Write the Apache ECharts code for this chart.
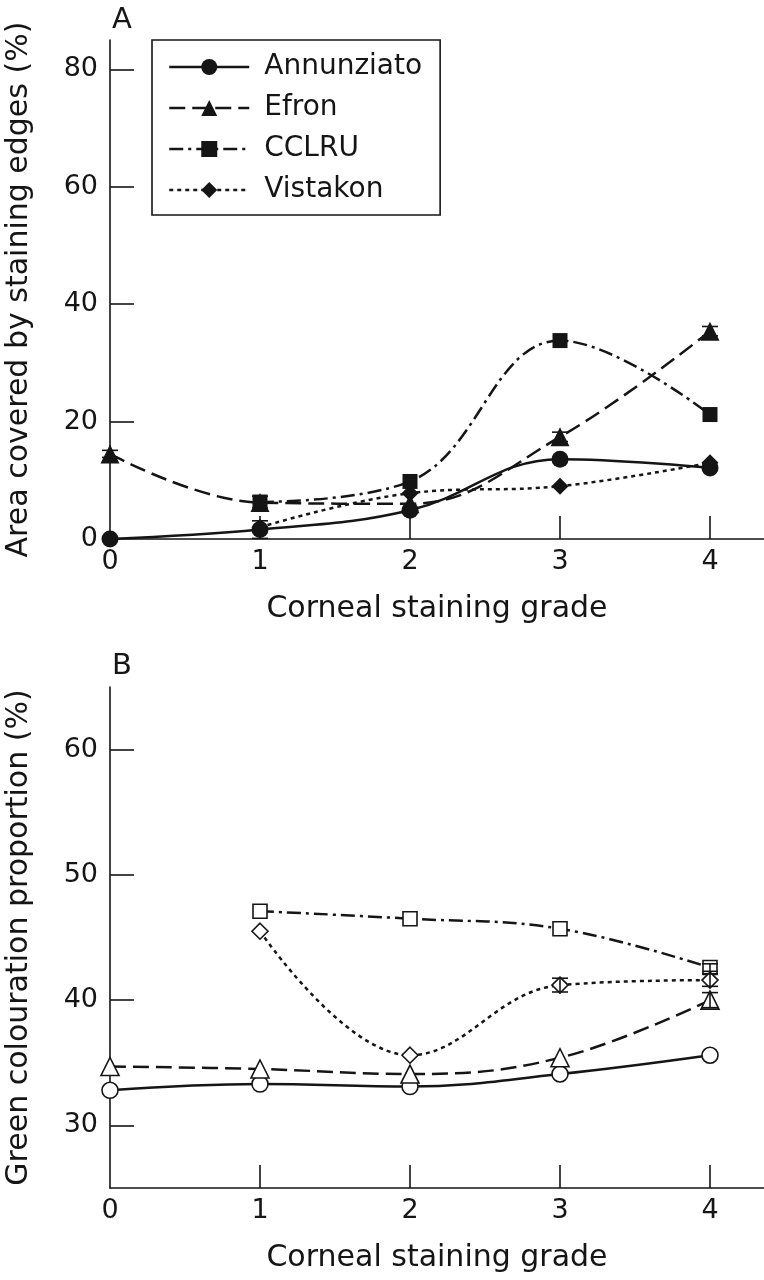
<!DOCTYPE html>
<html lang="en">

<head>
    <meta charset="UTF-8">
    <title>Corneal staining grade</title>
    <script src="https://cdn.jsdelivr.net/npm/echarts@6/dist/echarts.min.js"></script>
    <style>
        html, body { margin: 0; padding: 0; background: #fff; }
        #container { width: 764px; height: 1280px; }
    </style>
</head>

<body>
    <div id="container"></div>

    <script>
        // grades on the x axis
        var grades = [0, 1, 2, 3, 4];
        var names = ['Annunziato', 'Efron', 'CCLRU', 'Vistakon'];

        // panel A: area covered by staining edges (%)
        var annunziatoA = [0, 1.6, 4.9, 13.6, 12.1];
        var efronA = [14.5, 6.2, 6.0, 17.4, 35.4];
        var cclruA = [null, 6.3, 9.8, 33.8, 21.2];
        var vistakonA = [null, 2.0, 7.8, 9.0, 13.0];
        // error bars panel A (0 = none drawn)
        var efronErrA = [0.6, 0, 0, 0.8, 0.8];
        var cclruErrA = [0, 1.0, 0, 0, 0];
        var annunziatoErrA = [0, 1.5, 0, 0, 0];

        // panel B: green colouration proportion (%)
        var annunziatoB = [32.8, 33.3, 33.1, 34.1, 35.6];
        var efronB = [34.7, 34.5, 34.1, 35.4, 40.0];
        var cclruB = [null, 47.1, 46.5, 45.7, 42.6];
        var vistakonB = [null, 45.5, 35.6, 41.2, 41.6];
        // error bars panel B
        var vistakonErrB = [0, 0, 0, 0.55, 0.5];
        var efronErrB = [0, 0, 0, 0, 0.6];
        var cclruErrB = [0, 0, 0, 0, 0.3];

        var yTicksA = [0, 20, 40, 60, 80];
        var yTicksB = [30, 40, 50, 60];

        var ink = '#151515';
        var font = '"DejaVu Sans", sans-serif';

        // pair values with grades, drop missing ones
        function pts(vals) {
            var out = [];
            vals.forEach(function (v, i) {
                if (v !== null) out.push([grades[i], v]);
            });
            return out;
        }
        function errPts(vals, errs) {
            var out = [];
            errs.forEach(function (e, i) {
                if (e > 0 && vals[i] !== null) out.push([grades[i], vals[i], e]);
            });
            return out;
        }

        var dashes = ['solid', [16, 7], [14, 5, 3, 5], [4, 4]];
        var symbols = ['circle', 'triangle', 'rect', 'diamond'];
        var symSizes = [17, 19, 15, 17];

        function lineSeries(idx, vals, grid, open) {
            return {
                name: names[idx],
                type: 'line',
                xAxisIndex: grid,
                yAxisIndex: grid,
                data: pts(vals),
                smooth: 0.4,
                symbol: symbols[idx],
                symbolSize: open ? symSizes[idx] - 1 : symSizes[idx],
                showAllSymbol: true,
                lineStyle: { color: ink, width: 2.5, type: dashes[idx] },
                itemStyle: open ? { color: '#fff', borderColor: ink, borderWidth: 1.6 } : { color: ink, borderWidth: 0 },
                emphasis: { disabled: true },
                z: 3
            };
        }

        function errSeries(data, grid) {
            return {
                type: 'custom',
                xAxisIndex: grid,
                yAxisIndex: grid,
                data: data,
                z: 4,
                renderItem: function (params, api) {
                    var top = api.coord([api.value(0), api.value(1) + api.value(2)]);
                    var bot = api.coord([api.value(0), api.value(1) - api.value(2)]);
                    var w = 8;
                    var st = { stroke: ink, lineWidth: 1.6 };
                    return {
                        type: 'group',
                        children: [
                            { type: 'line', shape: { x1: top[0], y1: top[1], x2: bot[0], y2: bot[1] }, style: st },
                            { type: 'line', shape: { x1: top[0] - w, y1: top[1], x2: top[0] + w, y2: top[1] }, style: st },
                            { type: 'line', shape: { x1: bot[0] - w, y1: bot[1], x2: bot[0] + w, y2: bot[1] }, style: st }
                        ]
                    };
                }
            };
        }

        function xAxisFor(grid) {
            return {
                type: 'value',
                gridIndex: grid,
                min: 0,
                max: 4.36,
                interval: 1,
                name: 'Corneal staining grade',
                nameLocation: 'middle',
                nameGap: 55,
                nameTextStyle: { fontFamily: font, fontSize: 30, color: ink },
                axisLine: { onZero: false, lineStyle: { color: ink, width: 1.6 } },
                axisTick: { inside: true, length: 23, customValues: [1, 2, 3, 4], lineStyle: { color: ink, width: 1.6 } },
                axisLabel: { customValues: grades, margin: 9, fontFamily: font, fontSize: 27, color: ink },
                splitLine: { show: false }
            };
        }

        function yAxisFor(grid, min, max, interval, ticks, tickMarks, name) {
            return {
                type: 'value',
                gridIndex: grid,
                min: min,
                max: max,
                interval: interval,
                name: name,
                nameLocation: 'middle',
                nameGap: 76,
                nameTextStyle: { fontFamily: font, fontSize: 30, color: ink },
                axisLine: { lineStyle: { color: ink, width: 1.6 } },
                axisTick: { inside: true, length: 24, customValues: tickMarks, lineStyle: { color: ink, width: 1.6 } },
                axisLabel: { customValues: ticks, margin: 12, fontFamily: font, fontSize: 27, color: ink },
                splitLine: { show: false }
            };
        }

        var myChart = echarts.init(document.getElementById('container'));
        myChart.setOption({
            backgroundColor: '#fff',
            animation: false,
            title: [
                { text: 'A', left: 107, top: 1, textStyle: { fontFamily: font, fontSize: 29, fontWeight: 'normal', color: ink } },
                { text: 'B', left: 107, top: 647, textStyle: { fontFamily: font, fontSize: 29, fontWeight: 'normal', color: ink } }
            ],
            legend: {
                data: names,
                orient: 'vertical',
                left: 152,
                top: 40,
                padding: [12, 18, 10, 16],
                itemWidth: 80,
                itemHeight: 20,
                itemGap: 11,
                borderColor: ink,
                borderWidth: 1.6,
                backgroundColor: '#fff',
                selectedMode: false,
                lineStyle: { width: 2.5 },
                textStyle: { fontFamily: font, fontSize: 28, color: ink, lineHeight: 30, padding: [0, 0, 0, 10] }
            },
            grid: [
                { left: 110, top: 40, right: 0, height: 499, outerBoundsMode: 'none' },
                { left: 110, top: 687, right: 0, height: 501, outerBoundsMode: 'none' }
            ],
            xAxis: [xAxisFor(0), xAxisFor(1)],
            yAxis: [
                yAxisFor(0, 0, 85, 20, yTicksA, [20, 40, 60, 80], 'Area covered by staining edges (%)'),
                yAxisFor(1, 25, 65, 5, yTicksB, yTicksB, 'Green colouration proportion (%)')
            ],
            series: [
                lineSeries(0, annunziatoA, 0, false),
                lineSeries(1, efronA, 0, false),
                lineSeries(2, cclruA, 0, false),
                lineSeries(3, vistakonA, 0, false),
                errSeries(errPts(efronA, efronErrA), 0),
                errSeries(errPts(cclruA, cclruErrA), 0),
                errSeries(errPts(annunziatoA, annunziatoErrA), 0),
                lineSeries(0, annunziatoB, 1, true),
                lineSeries(1, efronB, 1, true),
                lineSeries(2, cclruB, 1, true),
                lineSeries(3, vistakonB, 1, true),
                errSeries(errPts(vistakonB, vistakonErrB), 1),
                errSeries(errPts(efronB, efronErrB), 1),
                errSeries(errPts(cclruB, cclruErrB), 1)
            ]
        });
    </script>
</body>

</html>
